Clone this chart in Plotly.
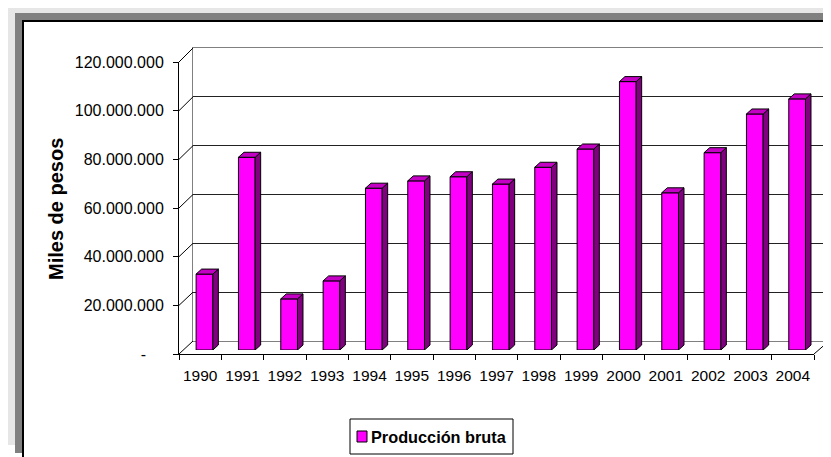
import plotly.graph_objects as go

# ---------------- data ----------------
years = ["1990", "1991", "1992", "1993", "1994", "1995", "1996", "1997",
         "1998", "1999", "2000", "2001", "2002", "2003", "2004"]
produccion = [31.2e6, 79.2e6, 21.0e6, 28.4e6, 66.5e6, 69.5e6, 71.2e6, 68.2e6,
              75.1e6, 82.6e6, 110.3e6, 64.6e6, 81.1e6, 97.0e6, 103.2e6]
y_tickvals = [0, 20e6, 40e6, 60e6, 80e6, 100e6, 120e6]
y_ticktext = ["-" + "\u00a0" * 4, "20.000.000", "40.000.000", "60.000.000",
              "80.000.000", "100.000.000", "120.000.000"]
series_name = "Producción bruta"
y_title = "Miles de pesos"

# ---------------- geometry (page pixels) ----------------
OFF = 8                                  # page body margin
W, H = 823, 449                          # figure size (page minus offset)
L, R, T, B = 179, 829, 48, 354          # plot area bounds (page coords)
PW, PH = R - L, B - T
FRONT_W, FRONT_H = 635, 292              # front axis length
DEPTH_X, DEPTH_Y = 14, 13                # floor depth
BAR_OX, BAR_OY = 4.3, 4                  # bar plane offset
BAR_DX, BAR_DY = 5.5, 5                  # bar depth
BAR_W = 0.395
YMAX = 120e6
n = len(years)


def px(x):
    return (x - L) / PW


def py(y):
    return (B - y) / PH


FONT = "Arial, Liberation Sans, sans-serif"
MAGENTA, SIDE, TOP = "#ff00ff", "#800080", "#c400c4"

fig = go.Figure()

# invisible anchor traces so the front and back-wall axes get drawn
fig.add_trace(go.Scatter(x=list(range(n)), y=produccion, mode="markers",
                         marker=dict(opacity=0), xaxis="x", yaxis="y",
                         showlegend=False, hoverinfo="skip"))
fig.add_trace(go.Scatter(x=[0, 1], y=[0, 0], mode="markers",
                         marker=dict(opacity=0), xaxis="x2", yaxis="y2",
                         showlegend=False, hoverinfo="skip"))

# bars (front faces)
fig.add_trace(go.Bar(
    x=list(range(n)), y=produccion, width=BAR_W, name=series_name,
    marker=dict(color=MAGENTA, line=dict(color="black", width=1)),
    xaxis="x3", yaxis="y3", showlegend=False, hoverinfo="skip"))

# depth faces in data units
dx = BAR_DX / (FRONT_W / n)
dy = BAR_DY * YMAX / FRONT_H
sx, sy, tx, ty = [], [], [], []
for i, v in enumerate(produccion):
    xl, xr = i - BAR_W / 2, i + BAR_W / 2
    sx += [xr, xr + dx, xr + dx, xr, xr, None]
    sy += [0, dy, v + dy, v, 0, None]
    tx += [xl, xr, xr + dx, xl + dx, xl, None]
    ty += [v, v, v + dy, v + dy, v, None]
for xs, ys, col in ((sx, sy, SIDE), (tx, ty, TOP)):
    fig.add_trace(go.Scatter(
        x=xs, y=ys, mode="lines", fill="toself", fillcolor=col,
        line=dict(color="black", width=1), xaxis="x3", yaxis="y3",
        showlegend=False, hoverinfo="skip"))

shapes = []
# frame
shapes.append(dict(type="rect", xref="paper", yref="paper", layer="below",
                   x0=px(8), x1=px(825), y0=py(5), y1=py(445),
                   fillcolor="#e6e6e6", line=dict(width=0)))
shapes.append(dict(type="rect", xref="paper", yref="paper", layer="below",
                   x0=px(15), x1=px(850), y0=py(13), y1=py(453),
                   fillcolor="#808080", line=dict(width=0)))
shapes.append(dict(type="rect", xref="paper", yref="paper", layer="below",
                   x0=px(23), x1=px(860), y0=py(21), y1=py(480),
                   fillcolor="white", line=dict(color="black", width=2)))

# left diagonals from front axis ticks to back wall
for v in y_tickvals:
    yf = B - v / YMAX * FRONT_H
    yb = B - DEPTH_Y - v / YMAX * (PH - DEPTH_Y)
    shapes.append(dict(type="line", xref="paper", yref="paper",
                       x0=px(L), y0=py(yf), x1=px(L + DEPTH_X), y1=py(yb),
                       line=dict(color="black", width=1)))
# right floor diagonal
shapes.append(dict(type="line", xref="paper", yref="paper",
                   x0=px(L + FRONT_W), y0=py(B), x1=px(R), y1=py(B - DEPTH_Y),
                   line=dict(color="black", width=1)))

# legend (custom)
shapes.append(dict(type="rect", xref="paper", yref="paper",
                   x0=px(350), x1=px(513), y0=py(419), y1=py(454),
                   fillcolor="white", line=dict(color="black", width=1)))
shapes.append(dict(type="rect", xref="paper", yref="paper",
                   x0=px(357), x1=px(367), y0=py(431), y1=py(442),
                   fillcolor=MAGENTA, line=dict(color="black", width=1)))

annotations = [
    dict(text="<b>" + series_name + "</b>", xref="paper", yref="paper",
         x=px(369), y=py(436.5), xanchor="left", yanchor="middle",
         showarrow=False, font=dict(family=FONT, size=16.3, color="black")),
    dict(text="<b>" + y_title + "</b>", xref="paper", yref="paper",
         x=px(56), y=py(209), xanchor="center", yanchor="middle",
         textangle=-90, showarrow=False,
         font=dict(family=FONT, size=20, color="black")),
]

fig.update_layout(
    width=W, height=H, autosize=False,
    margin=dict(l=L - OFF, r=W - (R - OFF), t=T - OFF, b=H - (B - OFF), pad=0),
    paper_bgcolor="white", plot_bgcolor="rgba(0,0,0,0)",
    showlegend=False,
    font=dict(family=FONT, color="black"),
    shapes=shapes, annotations=annotations,
    # front axes (labels/ticks)
    xaxis=dict(domain=[0, px(L + FRONT_W)], range=[-0.5, n - 0.5],
               anchor="y", tickmode="array", tickvals=list(range(n)),
               ticktext=years, ticks="", showgrid=False, zeroline=False,
               showline=True, linecolor="black", linewidth=1,
               ticklabelstandoff=7,
               tickfont=dict(size=15.5, family=FONT),
               minor=dict(ticks="outside", tick0=-0.5, dtick=1, ticklen=5,
                          tickcolor="black", tickwidth=1, showgrid=False),
               fixedrange=True),
    yaxis=dict(domain=[0, py(B - FRONT_H)], range=[0, YMAX], anchor="x",
               tickmode="array", tickvals=y_tickvals, ticktext=y_ticktext,
               ticks="outside", ticklen=5, tickcolor="black",
               ticklabelstandoff=6,
               showgrid=False, zeroline=False, showline=True,
               linecolor="black", linewidth=1,
               tickfont=dict(size=16, family=FONT), fixedrange=True),
    # back wall
    xaxis2=dict(domain=[px(L + DEPTH_X), 1], range=[0, 1], anchor="y2",
                showticklabels=False, ticks="", showgrid=False,
                zeroline=False, showline=True, mirror=True,
                linecolor="#808080", linewidth=1, fixedrange=True),
    yaxis2=dict(domain=[py(B - DEPTH_Y), 1], range=[0, YMAX], anchor="x2",
                tickmode="array", tickvals=y_tickvals, showticklabels=False,
                ticks="", showgrid=True, gridcolor="#222222", gridwidth=1,
                zeroline=False, showline=True, mirror=True,
                linecolor="#808080", linewidth=1, fixedrange=True),
    # bar plane
    xaxis3=dict(domain=[px(L + BAR_OX), px(L + BAR_OX + FRONT_W)],
                range=[-0.5, n - 0.5], anchor="y3", visible=False,
                fixedrange=True),
    yaxis3=dict(domain=[py(B - BAR_OY), py(B - BAR_OY - FRONT_H)],
                range=[0, YMAX], anchor="x3", visible=False,
                fixedrange=True),
)

fig.write_html("out.html")
